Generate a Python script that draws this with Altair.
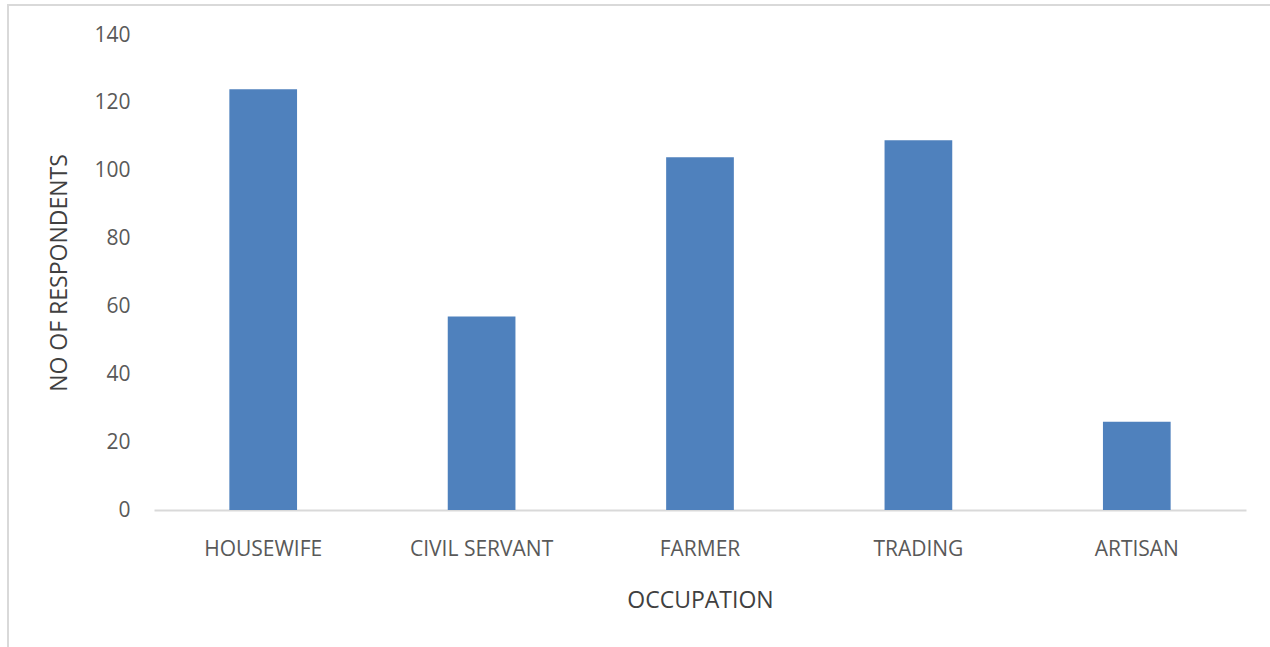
import altair as alt
import pandas as pd

occupations = ["HOUSEWIFE", "CIVIL SERVANT", "FARMER", "TRADING", "ARTISAN"]
respondents = [124, 57, 104, 109, 26]

df = pd.DataFrame({"occupation": occupations, "respondents": respondents})

FONT = "Open Sans"
TEXT = "#595959"

bars = alt.Chart(df).mark_bar(color="#4F81BD").encode(
    x=alt.X(
        "occupation:N",
        sort=occupations,
        scale=alt.Scale(paddingInner=0.69, paddingOuter=0.345),
        axis=alt.Axis(
            title="OCCUPATION",
            labelAngle=0,
            ticks=False,
            labelPadding=28,
            titlePadding=30,
            domainColor="#D9D9D9",
            domainWidth=2,
        ),
    ),
    y=alt.Y(
        "respondents:Q",
        scale=alt.Scale(domain=[0, 140]),
        axis=alt.Axis(
            title="NO OF RESPONDENTS",
            values=[0, 20, 40, 60, 80, 100, 120, 140],
            ticks=False,
            grid=False,
            domain=False,
            labelPadding=24,
            titlePadding=22,
        ),
    ),
)

# outer chart border
frame = alt.Chart(df).mark_rect(fill=None, stroke="#D9D9D9", strokeWidth=2).encode(
    x=alt.value(-146), x2=alt.value(1130), y=alt.value(-30), y2=alt.value(640)
)

chart = (
    alt.layer(frame, bars)
    .properties(
        width=1092,
        height=475,
        autosize=alt.AutoSizeParams(type="none"),
        padding={"left": 154, "top": 35, "right": 24, "bottom": 137},
    )
    .configure_view(stroke=None)
    .configure_axis(
        labelFont=FONT,
        titleFont=FONT,
        labelFontSize=21,
        titleFontSize=23,
        labelColor=TEXT,
        titleColor="#404040",
        titleFontWeight="normal",
    )
)

chart.save("out.html", embed_options={"renderer": "svg", "actions": False})
